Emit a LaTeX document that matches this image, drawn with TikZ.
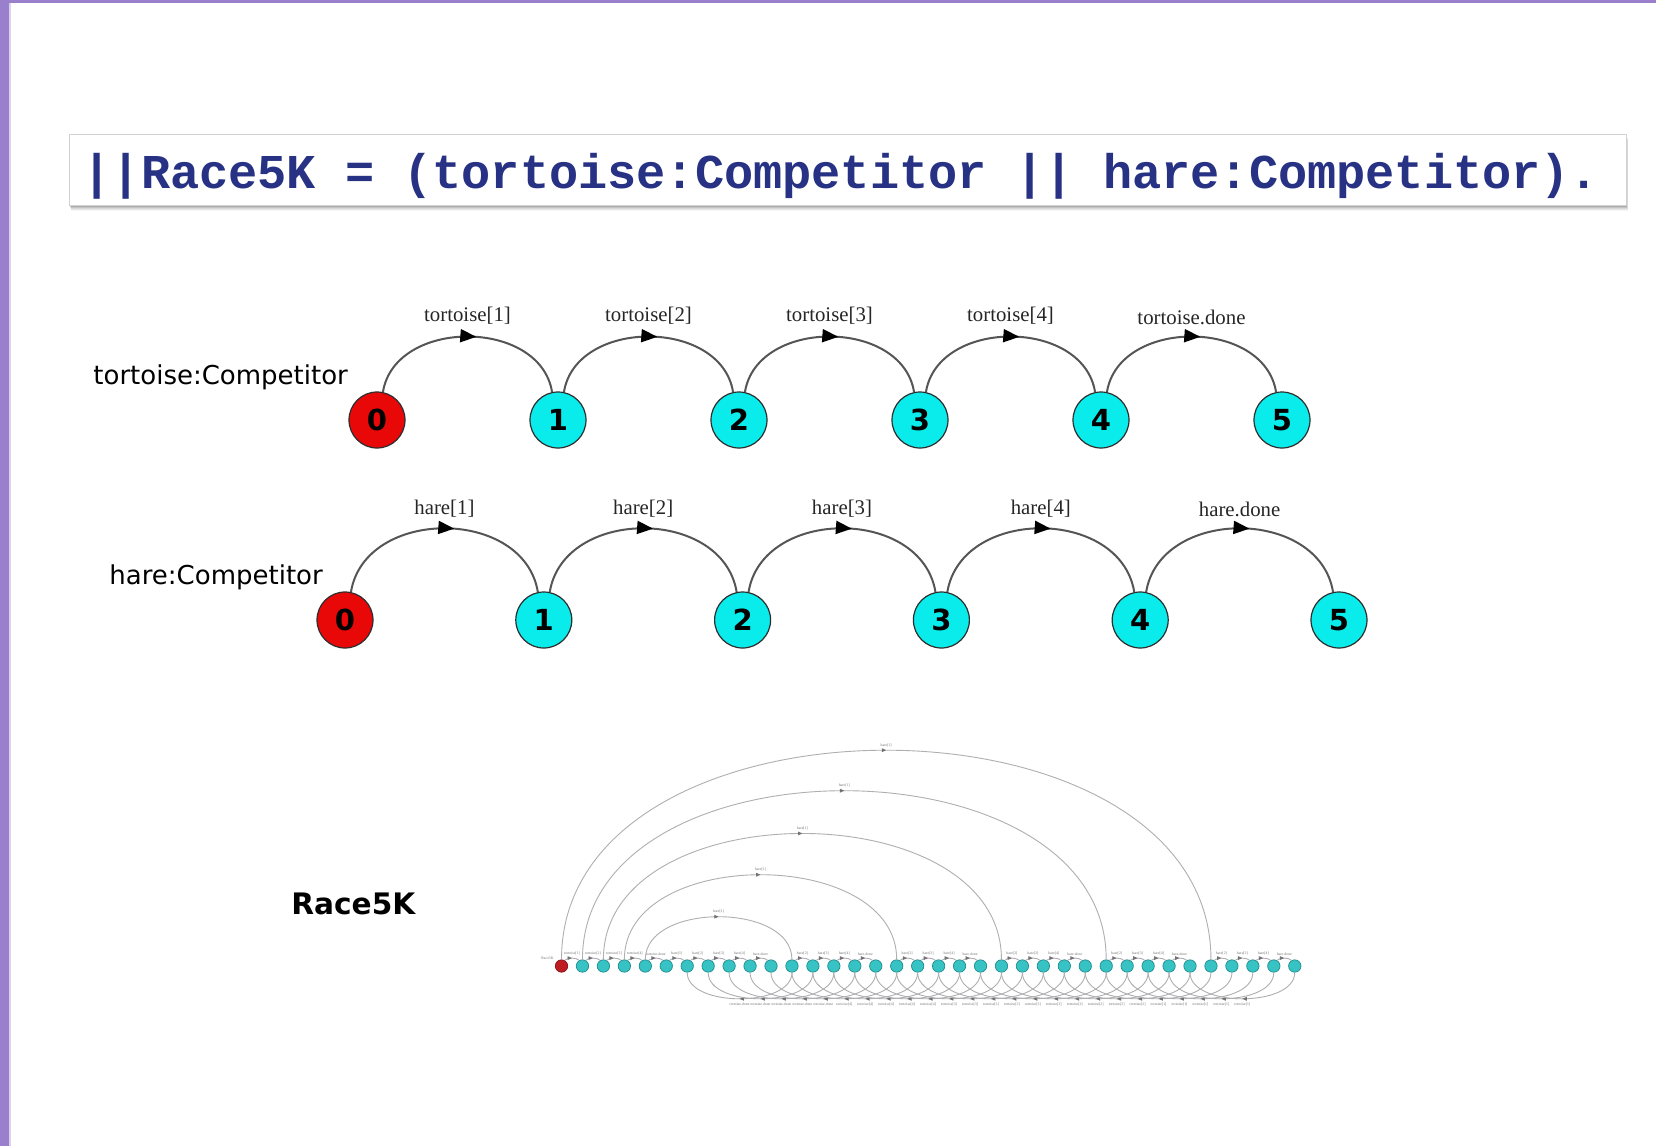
\documentclass[tikz,border=0pt]{standalone}
\usepackage{fontspec}
\setmainfont{Liberation Serif}
\setsansfont{DejaVu Sans}
\setmonofont{Liberation Mono}
\usetikzlibrary{arrows.meta,decorations.markings}

\definecolor{slidepurple}{RGB}{153,127,204}
\definecolor{slidelilac}{RGB}{218,208,240}
\definecolor{codeblue}{RGB}{40,50,132}
\definecolor{stred}{RGB}{232,8,8}
\definecolor{stcyan}{RGB}{10,235,235}
\definecolor{stborder}{RGB}{45,45,45}
\definecolor{arcgrey}{RGB}{85,85,85}
\definecolor{mred}{RGB}{190,30,35}
\definecolor{mcyan}{RGB}{55,195,195}
\definecolor{mborder}{RGB}{30,140,145}
\definecolor{mline}{RGB}{175,175,178}

\tikzset{
  statebase/.style={circle, draw=stborder, line width=0.6pt, minimum size=28pt, inner sep=0pt,
    font=\sffamily\bfseries\fontsize{14.5}{16}\selectfont},
  startstate/.style={statebase, fill=stred},
  stepstate/.style={statebase, fill=stcyan},
  trans/.style={draw=arcgrey, line width=1pt, postaction={decorate},
    decoration={markings, mark=at position 0.54 with {\arrow{Triangle[length=8pt,width=6.5pt,color=black]}}}},
  translabel/.style={font=\rmfamily\fontsize{10.4}{12}\selectfont, inner sep=0pt, text=black!85},
  rowlabel/.style={font=\sffamily\fontsize{13}{15}\selectfont, anchor=base west, inner sep=0pt},
  ministate/.style={circle, minimum size=6.2pt, inner sep=0pt, draw=mborder, line width=0.35pt, fill=mcyan},
  ministart/.style={ministate, draw=mred!70!black, fill=mred},
  minitrans/.style={draw=mline, line width=0.45pt, postaction={decorate},
    decoration={markings, mark=at position 0.5 with {\arrow{Triangle[length=2.2pt,width=1.8pt,color=black!55]}}}},
  minilabel/.style={font=\rmfamily\fontsize{1.9}{2.4}\selectfont, inner sep=0pt, text=black!55},
}

\begin{document}
\begin{tikzpicture}[x=0.5pt, y=0.5pt]
\useasboundingbox (0,0) rectangle (1656,-1146);
\fill[white] (0,0) rectangle (1656,-1146);
% slide frame
\fill[slidepurple] (0,0) rectangle (9,-1146);
\fill[slidelilac] (9,-3) rectangle (11,-1146);
\fill[slidepurple] (0,0) rectangle (1656,-3);

% code box with drop shadow
\foreach \d/\op in {6/0.04,5/0.05,4/0.07,3/0.09,2/0.11}
  \fill[black, opacity=\op] ({69+0.4*\d},{-134-\d}) rectangle ({1626+0.4*\d},{-205-\d});
\draw[draw=black!18, fill=white, line width=0.5pt] (69,-134) rectangle (1626,-205);
\node[font=\ttfamily\bfseries\fontsize{24.3}{28}\selectfont, text=codeblue, anchor=base, inner sep=0pt]
  (code) at (841,-188) {||Race5K = (tortoise:Competitor || hare:Competitor).};

% tortoise:Competitor
\node[rowlabel] (tlab) at (93,-384) {tortoise:Competitor};
\node[startstate] (t0) at (377,-420) {0};
\foreach \i in {1,...,5} \node[stepstate] (t\i) at ({377+181*\i},-420) {\i};
\foreach \i/\j/\lab in {0/1/tortoise[1],1/2/tortoise[2],2/3/tortoise[3],3/4/tortoise[4],4/5/tortoise.done}
  \draw[trans] (t\i.78) .. controls +(12,74) and +(-12,74) .. (t\j.102)
     node[translabel, midway, above=5.5pt] {\lab};

% hare:Competitor
\node[rowlabel] (hlab) at (109,-584) {hare:Competitor};
\node[startstate] (h0) at (345,-620) {0};
\foreach \i in {1,...,5} \node[stepstate] (h\i) at ({345+198.8*\i},-620) {\i};
\foreach \i/\j/\lab in {0/1/hare[1],1/2/hare[2],2/3/hare[3],3/4/hare[4],4/5/hare.done}
  \draw[trans] (h\i.78) .. controls +(14,85) and +(-14,85) .. (h\j.102)
     node[translabel, midway, above=5pt] {\lab};

% Race5K composition
\node[font=\sffamily\bfseries\fontsize{14.8}{17}\selectfont, anchor=base west, inner sep=0pt]
  (rlab) at (291,-914) {Race5K};
\node[ministart] (r0) at (561.5,-966) {};
\foreach \n in {1,...,35} \node[ministate] (r\n) at ({561.5+20.95*\n},-966) {};
\node[minilabel, anchor=east] (rname) at (554,-958) {Race5K};

% forward steps to the next state
\foreach \n/\lab in {0/tortoise[1],1/tortoise[2],2/tortoise[3],3/tortoise[4],4/tortoise.done,
    5/hare[1],6/hare[2],7/hare[3],8/hare[4],9/hare.done,
    11/hare[2],12/hare[3],13/hare[4],14/hare.done,
    16/hare[2],17/hare[3],18/hare[4],19/hare.done,
    21/hare[2],22/hare[3],23/hare[4],24/hare.done,
    26/hare[2],27/hare[3],28/hare[4],29/hare.done,
    31/hare[2],32/hare[3],33/hare[4],34/hare.done}
{
  \pgfmathtruncatemacro{\nxt}{\n+1}
  \draw[minitrans] (r\n.60) .. controls +(3,3) and +(-3,3) .. (r\nxt.120)
    node[minilabel, midway, above=1.2pt] {\lab};
}

% hare[1] arcs over the row
\foreach \a/\b/\k in {0/31/279,1/26/225,2/21/168,3/16/113,4/11/57}
  \draw[minitrans] (r\a.north) .. controls +(0,\k) and +(0,\k) .. (r\b.north)
    node[minilabel, midway, above=1.5pt] {hare[1]};

% tortoise steps back along the row
\foreach \b/\lab in {11/tortoise.done,16/tortoise[4],21/tortoise[3],26/tortoise[2],31/tortoise[1]}
  \foreach \k in {0,...,4} {
    \pgfmathtruncatemacro{\src}{\b+\k}
    \pgfmathtruncatemacro{\dst}{\b+\k-5}
    \draw[minitrans] (r\src.south) .. controls +(0,-35) and +(0,-35) .. (r\dst.south)
      node[minilabel, midway, below=2pt] {\lab};
  }
\end{tikzpicture}
\end{document}
